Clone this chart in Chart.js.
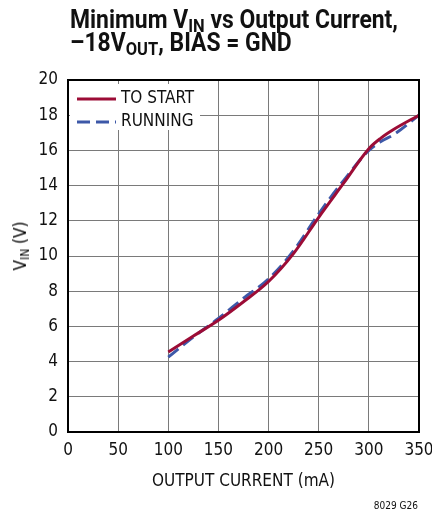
<!DOCTYPE html>
<html>
<head>
<meta charset="utf-8">
<script src="https://cdn.jsdelivr.net/npm/chart.js@4.4.1/dist/chart.umd.min.js"></script>
<style>
  body { margin: 0; background: #fff; }
  #wrap { position: relative; width: 432px; height: 514px; font-family: 'DejaVu Sans Condensed', Roboto, sans-serif; overflow: hidden; }
  #title { position: absolute; left: 70px; top: 8px; font-family: Roboto, sans-serif; font-weight: bold; font-size: 25px; line-height: 23px; color: #111; white-space: nowrap; transform-origin: 0 0; }
  #title span { display: inline-block; }
  #title sub { font-size: 18px; vertical-align: -4px; line-height: 0; }
  #ylab { position: absolute; left: 20px; top: 246px; transform: translate(-50%, -50%) rotate(-90deg); font-size: 17px; white-space: nowrap; color: #000; }
  #ylab sub { font-size: 12px; vertical-align: -3px; line-height: 0; }
  #note { position: absolute; right: 14px; top: 500px; font-size: 10px; color: #111; }
  canvas { position: absolute; left: 0; top: 0; }
</style>
</head>
<body>
<div id="wrap">
  <canvas id="grafica" width="432" height="514"></canvas>
  <div id="title"><span id="linea1">Minimum V<sub>IN</sub> vs Output Current,</span><br><span>–18V<sub>OUT</sub>, BIAS = GND</span></div>
  <div id="ylab">V<sub>IN</sub> (V)</div>
  <div id="note">8029 G26</div>
</div>
<script>
// -------------------------------------------------------------------------------------------------------------------------
// DATA
// -------------------------------------------------------------------------------------------------------------------------
var corriente = [100, 125, 150, 175, 200, 225, 250, 275, 300, 312, 325, 350];
var toStart   = [4.55, 5.45, 6.35, 7.4, 8.55, 10.15, 12.2, 14.15, 16.1, 16.7, 17.2, 18.0];
var running   = [4.25, 5.4, 6.45, 7.6, 8.7, 10.3, 12.4, 14.3, 16.0, 16.5, 16.9, 18.0];
var xTicks = [0, 50, 100, 150, 200, 250, 300, 350];
var yTicks = [0, 2, 4, 6, 8, 10, 12, 14, 16, 18, 20];

var fuente = "'DejaVu Sans Condensed', Roboto, sans-serif";
var rojo = '#9c0c36';
var azul = '#3d58a8';

// Ajusta el titulo al ancho condensado del original
var titulo = document.getElementById('title');
var ancho = document.getElementById('linea1').getBoundingClientRect().width;
titulo.style.transform = 'scaleX(' + (328 / ancho) + ')';

function puntos(ys) {
    return corriente.map(function(x, i) { return { x: x, y: ys[i] }; });
}

// Marco negro y leyenda dentro del area
var marcoYLeyenda = {
    id: 'marcoYLeyenda',
    afterDatasetsDraw: function(chart) {
        var ctx = chart.ctx;
        var a = chart.chartArea;
        ctx.save();
        // leyenda
        ctx.fillStyle = '#fff';
        ctx.fillRect(a.left + 2, 84, 130, 46);
        ctx.lineWidth = 3;
        ctx.strokeStyle = rojo;
        ctx.setLineDash([]);
        ctx.beginPath(); ctx.moveTo(a.left + 9, 99); ctx.lineTo(a.left + 48, 99); ctx.stroke();
        ctx.strokeStyle = azul;
        ctx.setLineDash([13, 6]);
        ctx.beginPath(); ctx.moveTo(a.left + 9, 122); ctx.lineTo(a.left + 48, 122); ctx.stroke();
        ctx.setLineDash([]);
        ctx.fillStyle = '#111';
        ctx.font = '17px ' + fuente;
        ctx.textBaseline = 'middle';
        ctx.fillText('TO START', a.left + 53, 99);
        ctx.fillText('RUNNING', a.left + 53, 122);
        // marco
        ctx.strokeStyle = '#000';
        ctx.lineWidth = 2;
        ctx.strokeRect(a.left, a.top, a.right - a.left, a.bottom - a.top);
        ctx.restore();
    }
};

var ctx = document.getElementById('grafica').getContext('2d');
var grafica = new Chart(ctx, {
    type: 'line',
    data: {
        datasets: [{
            label: 'TO START',
            data: puntos(toStart),
            borderColor: rojo,
            borderWidth: 3,
            pointRadius: 0,
            cubicInterpolationMode: 'monotone',
            order: 0
        },
        {
            label: 'RUNNING',
            data: puntos(running),
            borderColor: azul,
            borderWidth: 3,
            borderDash: [13, 6],
            pointRadius: 0,
            cubicInterpolationMode: 'monotone',
            order: 1
        }]
    },
    options: {
        responsive: false,
        animation: false,
        layout: { padding: { top: 80, right: 13, bottom: 22, left: 0 } },
        plugins: {
            legend: { display: false },
            tooltip: { enabled: false }
        },
        scales: {
            x: {
                type: 'linear',
                min: 0,
                max: 350,
                afterBuildTicks: function(s) { s.ticks = xTicks.map(function(v) { return { value: v }; }); },
                afterFit: function(s) { s.height = 60; s.paddingLeft = 0; s.paddingRight = 0; },
                grid: { color: '#7a7a7a', lineWidth: 1, drawTicks: false },
                border: { display: false },
                ticks: { color: '#111', padding: 8, maxRotation: 0, font: { family: fuente, size: 17 } },
                title: { display: true, text: 'OUTPUT CURRENT (mA)', color: '#111', padding: 0, font: { family: fuente, size: 17 } }
            },
            y: {
                min: 0,
                max: 20,
                afterBuildTicks: function(s) { s.ticks = yTicks.map(function(v) { return { value: v }; }); },
                afterFit: function(s) { s.width = 68; s.paddingTop = 0; s.paddingBottom = 0; },
                grid: { color: '#7a7a7a', lineWidth: 1, drawTicks: false },
                border: { display: false },
                ticks: { color: '#111', padding: 10, font: { family: fuente, size: 17 } }
            }
        }
    },
    plugins: [marcoYLeyenda]
});
</script>
</body>
</html>
